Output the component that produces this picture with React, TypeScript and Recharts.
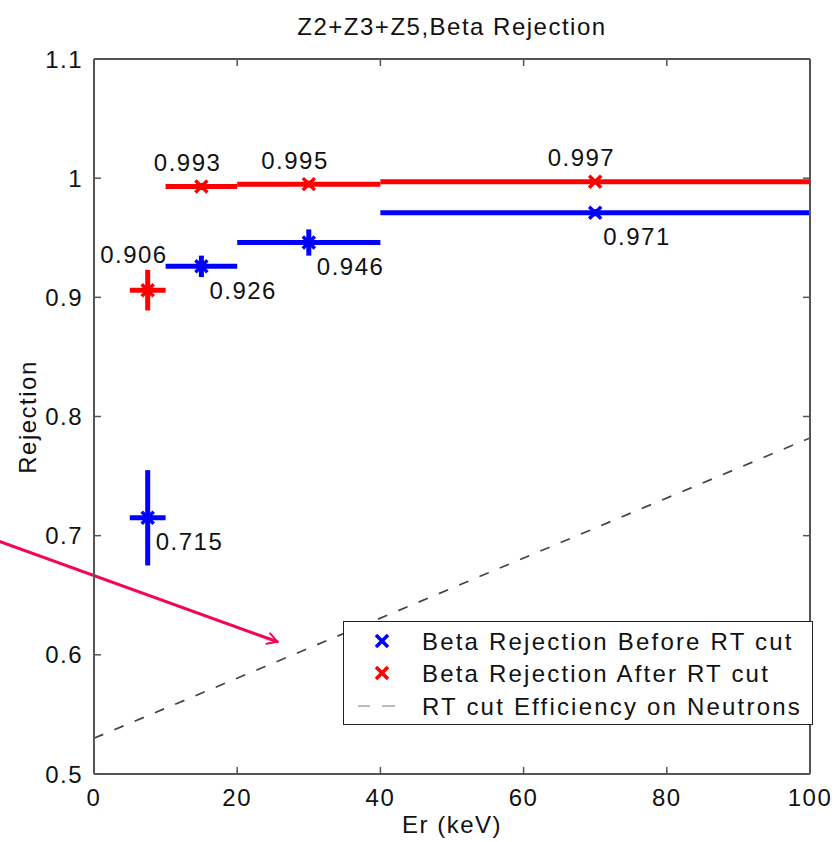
import React from "react";
import {
  ComposedChart,
  Scatter,
  Line,
  XAxis,
  YAxis,
  ErrorBar,
  ReferenceLine,
} from "recharts";

// bin centres (keV) and half widths
const energyBins = [7.5, 15, 30, 70];
const binHalfWidths = [2.5, 5, 10, 30];

// beta rejection before / after the RT cut
const beforeRtCut = [0.715, 0.926, 0.946, 0.971];
const beforeRtErr = [0.04, 0.009, 0.011, 0.003];
const afterRtCut = [0.906, 0.993, 0.995, 0.997];
const afterRtErr = [0.017, 0.003, 0.003, 0.002];

// RT cut efficiency on neutrons (straight line)
const neutronEffEnergy = [0, 100];
const neutronEff = [0.53, 0.782];

const xTicks = [0, 20, 40, 60, 80, 100];
const yTicks = [0.5, 0.6, 0.7, 0.8, 0.9, 1, 1.1];

// annotation arrow (data coords)
const arrowFrom = [-13.1, 0.695];
const arrowTo = [25.6, 0.611];

const BLUE = "#0000ff";
const RED = "#ff0000";
const AXIS = "#555";
const FONT = "'Liberation Sans', Arial, Helvetica, sans-serif";
const textStyle = { fontFamily: FONT, fontSize: 24, letterSpacing: 1.5, fill: "#111" };

const beforeData = energyBins.map((x, i) => ({
  x,
  y: beforeRtCut[i],
  ex: binHalfWidths[i],
  ey: beforeRtErr[i],
}));
const afterData = energyBins.map((x, i) => ({
  x,
  y: afterRtCut[i],
  ex: binHalfWidths[i],
  ey: afterRtErr[i],
}));
const effData = neutronEffEnergy.map((x, i) => ({ x, y: neutronEff[i] }));

const makeCross = (color: string, labelBelow: boolean) => (props: any) => {
  const { cx, cy, payload } = props;
  if (cx == null || cy == null) return <g />;
  const s = 6;
  const i = energyBins.indexOf(payload.x);
  const label = Number(payload.y).toFixed(3);
  return (
    <g>
      <line x1={cx - s} y1={cy - s} x2={cx + s} y2={cy + s} stroke={color} strokeWidth={3.5} />
      <line x1={cx - s} y1={cy + s} x2={cx + s} y2={cy - s} stroke={color} strokeWidth={3.5} />
      {labelBelow ? (
        <text x={cx + 8} y={cy + 24} dominantBaseline="central" textAnchor="start" style={textStyle}>
          {label}
        </text>
      ) : (
        <text
          x={cx + 20}
          y={cy - (i === 0 ? 36 : 24)}
          dominantBaseline="central"
          textAnchor="end"
          style={textStyle}
        >
          {label}
        </text>
      )}
    </g>
  );
};

const LeftTick = ({ x, y, payload }: any) => (
  <g>
    <line x1={x} y1={y} x2={x + 7} y2={y} stroke={AXIS} strokeWidth={1.5} />
    <text x={x - 11} y={y} textAnchor="end" dominantBaseline="central" style={textStyle}>
      {String(payload.value)}
    </text>
  </g>
);
const BottomTick = ({ x, y, payload }: any) => (
  <g>
    <line x1={x} y1={y} x2={x} y2={y - 7} stroke={AXIS} strokeWidth={1.5} />
    <text x={x} y={y + 23} textAnchor="middle" dominantBaseline="central" style={textStyle}>
      {String(payload.value)}
    </text>
  </g>
);
const TopTick = ({ x, y }: any) => (
  <line x1={x} y1={y} x2={x} y2={y + 7} stroke={AXIS} strokeWidth={1.5} />
);
const RightTick = ({ x, y }: any) => (
  <line x1={x} y1={y} x2={x - 7} y2={y} stroke={AXIS} strokeWidth={1.5} />
);

const ArrowShape = (props: any) => {
  const { x1, y1, x2, y2 } = props;
  if ([x1, y1, x2, y2].some((v) => v == null)) return <g />;
  const ang = Math.atan2(y2 - y1, x2 - x1);
  const len = 11;
  const spread = Math.PI / 6;
  const hx1 = x2 - len * Math.cos(ang - spread);
  const hy1 = y2 - len * Math.sin(ang - spread);
  const hx2 = x2 - len * Math.cos(ang + spread);
  const hy2 = y2 - len * Math.sin(ang + spread);
  return (
    <g stroke="#f0065a" strokeWidth={3} fill="none" strokeLinecap="round">
      <line x1={x1} y1={y1} x2={x2} y2={y2} />
      <line x1={x2} y1={y2} x2={hx1} y2={hy1} strokeWidth={2} />
      <line x1={x2} y1={y2} x2={hx2} y2={hy2} strokeWidth={2} />
    </g>
  );
};

const Legend = () => {
  const rows = [
    { label: "Beta Rejection Before RT cut", kind: "x", color: BLUE, top: 20 },
    { label: "Beta Rejection After RT cut", kind: "x", color: RED, top: 52 },
    { label: "RT cut Efficiency on Neutrons", kind: "dash", color: "#bbb", top: 85 },
  ];
  return (
    <div
      style={{
        position: "absolute",
        left: 343,
        top: 621,
        width: 470,
        height: 104,
        boxSizing: "border-box",
        border: "1.5px solid #222",
        background: "#fff",
      }}
    >
      <svg width={470} height={104} style={{ position: "absolute", left: -1.5, top: -1.5 }}>
        {rows.map((r) => (
          <g key={r.label}>
            {r.kind === "x" ? (
              <g stroke={r.color} strokeWidth={3.5}>
                <line x1={33} y1={r.top - 6} x2={45} y2={r.top + 6} />
                <line x1={33} y1={r.top + 6} x2={45} y2={r.top - 6} />
              </g>
            ) : (
              <g stroke={r.color} strokeWidth={2}>
                <line x1={15} y1={r.top} x2={27} y2={r.top} />
                <line x1={39} y1={r.top} x2={52} y2={r.top} />
              </g>
            )}
            <text x={79} y={r.top} dominantBaseline="central" style={{ ...textStyle, letterSpacing: 2.2 }}>
              {r.label}
            </text>
          </g>
        ))}
      </svg>
    </div>
  );
};

export default function App() {
  return (
    <div
      style={{
        position: "absolute",
        left: 0,
        top: 0,
        width: 837,
        height: 842,
        background: "#fff",
        fontFamily: FONT,
      }}
    >
      <ComposedChart
        width={837}
        height={842}
        margin={{ top: 58, right: 26, bottom: 28, left: 14 }}
      >
        <XAxis
          dataKey="x"
          type="number"
          domain={[0, 100]}
          ticks={xTicks}
          allowDataOverflow
          height={40}
          tickSize={0}
          tickMargin={0}
          tick={<BottomTick />}
          axisLine={{ stroke: AXIS, strokeWidth: 2 }}
        />
        <XAxis
          xAxisId="top"
          orientation="top"
          dataKey="x"
          type="number"
          domain={[0, 100]}
          ticks={xTicks}
          allowDataOverflow
          height={1}
          tickSize={0}
          tickMargin={0}
          tick={<TopTick />}
          axisLine={{ stroke: AXIS, strokeWidth: 2 }}
        />
        <YAxis
          type="number"
          domain={[0.5, 1.1]}
          ticks={yTicks}
          allowDataOverflow
          width={80}
          tickSize={0}
          tickMargin={0}
          tick={<LeftTick />}
          axisLine={{ stroke: AXIS, strokeWidth: 2 }}
        />
        <YAxis
          yAxisId="right"
          orientation="right"
          type="number"
          domain={[0.5, 1.1]}
          ticks={yTicks}
          allowDataOverflow
          width={1}
          tickSize={0}
          tickMargin={0}
          tick={<RightTick />}
          axisLine={{ stroke: AXIS, strokeWidth: 2 }}
        />
        {/* same domains as the main axes, keeps the top/right frame axes alive */}
        <Line
          data={effData}
          dataKey="y"
          xAxisId="top"
          yAxisId="right"
          stroke="#444"
          strokeWidth={1.7}
          strokeDasharray="10 12"
          dot={false}
          activeDot={false}
          isAnimationActive={false}
          legendType="none"
        />
        <Scatter
          data={beforeData}
          dataKey="y"
          fill={BLUE}
          shape={makeCross(BLUE, true)}
          isAnimationActive={false}
        >
          <ErrorBar dataKey="ex" direction="x" width={0} stroke={BLUE} strokeWidth={5} isAnimationActive={false} />
          <ErrorBar dataKey="ey" direction="y" width={0} stroke={BLUE} strokeWidth={5} isAnimationActive={false} />
        </Scatter>
        <Scatter
          data={afterData}
          dataKey="y"
          fill={RED}
          shape={makeCross(RED, false)}
          isAnimationActive={false}
        >
          <ErrorBar dataKey="ex" direction="x" width={0} stroke={RED} strokeWidth={5} isAnimationActive={false} />
          <ErrorBar dataKey="ey" direction="y" width={0} stroke={RED} strokeWidth={5} isAnimationActive={false} />
        </Scatter>
        <ReferenceLine
          segment={[
            { x: arrowFrom[0], y: arrowFrom[1] },
            { x: arrowTo[0], y: arrowTo[1] },
          ]}
          ifOverflow="visible"
          shape={ArrowShape}
        />
      </ComposedChart>

      <div
        style={{
          position: "absolute",
          left: 94,
          width: 716,
          top: 15,
          lineHeight: "24px",
          fontSize: 24,
          letterSpacing: 1.5,
          textAlign: "center",
          color: "#111",
        }}
      >
        Z2+Z3+Z5,Beta Rejection
      </div>
      <div
        style={{
          position: "absolute",
          left: 94,
          width: 716,
          top: 813,
          lineHeight: "24px",
          fontSize: 24,
          letterSpacing: 1.5,
          textAlign: "center",
          color: "#111",
        }}
      >
        Er (keV)
      </div>
      <div
        style={{
          position: "absolute",
          left: 28 - 100,
          top: 417 - 12,
          width: 200,
          lineHeight: "24px",
          fontSize: 24,
          letterSpacing: 1.5,
          textAlign: "center",
          color: "#111",
          transform: "rotate(-90deg)",
        }}
      >
        Rejection
      </div>
      <Legend />
    </div>
  );
}
